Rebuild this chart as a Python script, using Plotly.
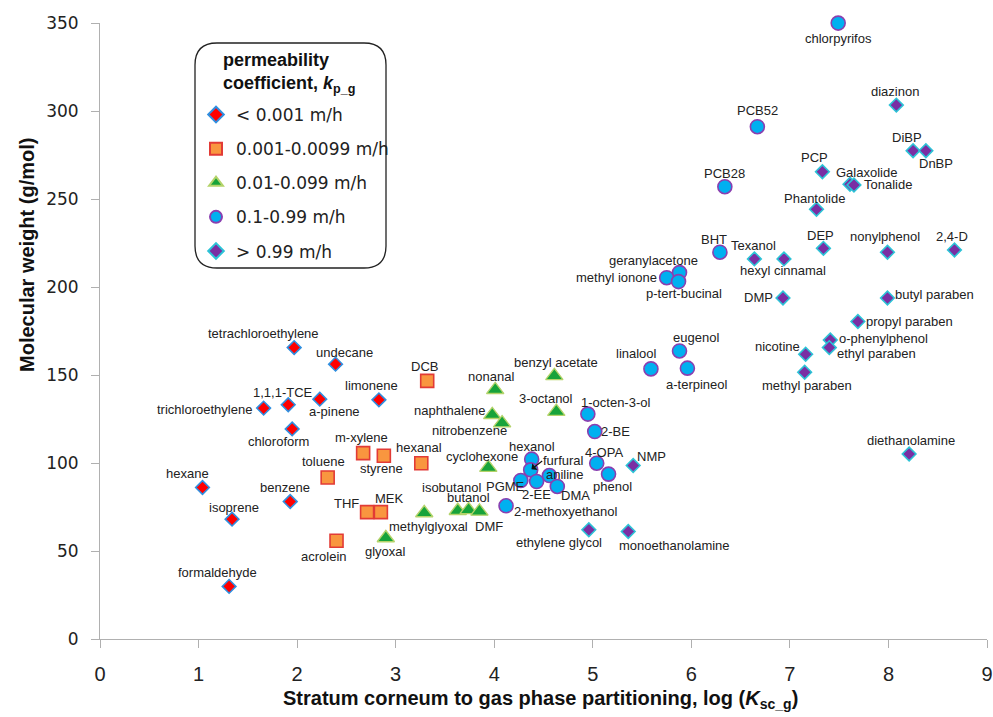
import plotly.graph_objects as go

# ---------------- data ----------------
# group 1: kp_g < 0.001 m/h
g1_names = ["tetrachloroethylene", "undecane", "limonene", "1,1,1-TCE", "a-pinene",
            "trichloroethylene", "chloroform", "hexane", "isoprene", "benzene", "formaldehyde"]
g1_x = [1.97, 2.39, 2.83, 1.91, 2.23, 1.66, 1.95, 1.04, 1.34, 1.93, 1.31]
g1_y = [165.6, 156.2, 135.9, 133.1, 136.3, 131.2, 119.4, 86.1, 68.1, 78.1, 29.9]

# group 2: 0.001-0.0099 m/h
g2_names = ["m-xylene", "styrene", "toluene", "THF", "MEK", "acrolein", "hexanal", "DCB"]
g2_x = [2.67, 2.88, 2.31, 2.71, 2.85, 2.40, 3.26, 3.32]
g2_y = [105.6, 104.1, 91.8, 72.1, 72.1, 55.8, 99.9, 146.7]

# group 3: 0.01-0.099 m/h
g3_names = ["nonanal", "benzyl acetate", "3-octanol", "naphthalene", "nitrobenzene",
            "cyclohexone", "isobutanol", "butanol", "DMF", "methylglyoxal", "glyoxal"]
g3_x = [4.01, 4.61, 4.63, 3.98, 4.08, 3.94, 3.63, 3.74, 3.85, 3.29, 2.90]
g3_y = [141.6, 149.5, 129.2, 127.4, 122.7, 97.4, 72.9, 73.4, 72.5, 71.6, 57.4]

# group 4: 0.1-0.99 m/h
g4_names = ["chlorpyrifos", "PCB52", "PCB28", "BHT", "geranylacetone", "methyl ionone",
            "p-tert-bucinal", "eugenol", "linalool", "a-terpineol", "1-octen-3-ol", "2-BE",
            "hexanol", "4-OPA", "phenol", "furfural", "aniline", "PGME", "2-EE", "DMA",
            "2-methoxyethanol"]
g4_x = [7.49, 6.67, 6.34, 6.29, 5.88, 5.75, 5.87, 5.88, 5.59, 5.96, 4.95, 5.02,
        4.38, 5.04, 5.16, 4.37, 4.56, 4.27, 4.43, 4.64, 4.12]
g4_y = [350.0, 291.1, 257.0, 219.8, 208.2, 205.3, 203.1, 163.7, 153.5, 153.9, 127.8, 117.9,
        102.2, 99.9, 93.7, 96.1, 92.9, 90.1, 89.5, 86.7, 75.7]

# group 5: > 0.99 m/h
g5_names = ["diazinon", "DiBP", "DnBP", "PCP", "Galaxolide", "Tonalide", "Phantolide", "DEP",
            "nonylphenol", "2,4-D", "Texanol", "hexyl cinnamal", "DMP", "butyl paraben",
            "propyl paraben", "o-phenylphenol", "ethyl paraben", "nicotine", "methyl paraben",
            "diethanolamine", "NMP", "monoethanolamine", "ethylene glycol"]
g5_x = [8.08, 8.25, 8.38, 7.33, 7.61, 7.65, 7.27, 7.34, 7.99, 8.67, 6.64, 6.94, 6.93, 7.99,
        7.69, 7.41, 7.40, 7.16, 7.15, 8.21, 5.41, 5.36, 4.96]
g5_y = [303.4, 277.5, 277.5, 265.5, 258.4, 258.0, 244.2, 222.0, 219.8, 221.1, 216.0, 216.0,
        193.8, 193.8, 180.4, 169.9, 165.6, 161.8, 151.6, 105.1, 98.6, 61.1, 62.1]

legend_labels = ["< 0.001 m/h", "0.001-0.0099 m/h", "0.01-0.099 m/h", "0.1-0.99 m/h", "> 0.99 m/h"]
legend_title = "<b>permeability<br>coefficient, <i>k</i><sub>p_g</sub></b>"

x_ticks = [0, 1, 2, 3, 4, 5, 6, 7, 8, 9]
y_ticks = [0, 50, 100, 150, 200, 250, 300, 350]

# ---------------- styling ----------------
styles = [
    dict(symbol="diamond", size=10.5, color="#ff0000", line="#2f8fe0", lw=1.6),
    dict(symbol="square", size=13, color="#f9963f", line="#e23b36", lw=1.6),
    dict(symbol="triangle-up", size=15, color="#17a33a", line="#b4d36a", lw=1.4),
    dict(symbol="circle", size=14, color="#00b0f0", line="#8a3fb0", lw=1.6),
    dict(symbol="diamond", size=10.5, color="#7a2ea3", line="#2cc3d6", lw=1.6),
]

# label offsets in screen pixels (dx right, dy down) relative to the marker
label_off = {
    "tetrachloroethylene": (-31, -14), "undecane": (9, -12), "limonene": (-7, -14),
    "1,1,1-TCE": (-5, -12), "a-pinene": (15, 12), "trichloroethylene": (-59, 1),
    "chloroform": (-14, 13), "hexane": (-15, -14), "isoprene": (2, -12),
    "benzene": (-5, -14), "formaldehyde": (-12, -14),
    "m-xylene": (-2, -16), "styrene": (-2, 13), "toluene": (-4, -16), "THF": (-21, -9),
    "MEK": (9, -14), "acrolein": (-13, 16), "hexanal": (-2, -16), "DCB": (-3, -14),
    "nonanal": (-4, -13), "benzyl acetate": (2, -13), "3-octanol": (-10, -13),
    "naphthalene": (-42, -4), "nitrobenzene": (-33, 7), "cyclohexone": (-6, -11),
    "isobutanol": (-6, -23), "butanol": (0, -12), "DMF": (10, 15),
    "methylglyoxal": (4, 13), "glyoxal": (0, 14),
    "chlorpyrifos": (0, 15), "PCB52": (0, -16), "PCB28": (0, -13), "BHT": (-6, -13),
    "geranylacetone": (-26, -12), "methyl ionone": (-50, 0), "p-tert-bucinal": (5, 12),
    "eugenol": (16, -13), "linalool": (-14, -15), "a-terpineol": (10, 16),
    "1-octen-3-ol": (28, -12), "2-BE": (21, 0), "hexanol": (0, -13), "4-OPA": (7, -11),
    "phenol": (4, 12), "furfural": (33, -9), "aniline": (16, -1), "PGME": (-15, 6),
    "2-EE": (0, 13), "DMA": (18, 9), "2-methoxyethanol": (59, 6),
    "diazinon": (-1, -14), "DiBP": (-6, -13), "DnBP": (10, 13), "PCP": (-8, -14),
    "Galaxolide": (16, -12), "Tonalide": (34, 0), "Phantolide": (-2, -11), "DEP": (-3, -13),
    "nonylphenol": (-2, -16), "2,4-D": (-2, -13), "Texanol": (-1, -13),
    "hexyl cinnamal": (-1, 12), "DMP": (-24, 0), "butyl paraben": (47, -3),
    "propyl paraben": (52, 0), "o-phenylphenol": (53, -2), "ethyl paraben": (47, 6),
    "nicotine": (-28, -8), "methyl paraben": (2, 13), "diethanolamine": (2, -14),
    "NMP": (18, -9), "monoethanolamine": (46, 14), "ethylene glycol": (-30, 13),
}

groups = [(g1_names, g1_x, g1_y), (g2_names, g2_x, g2_y), (g3_names, g3_x, g3_y),
          (g4_names, g4_x, g4_y), (g5_names, g5_x, g5_y)]

LABEL_FONT = dict(family="Liberation Sans, Arial, sans-serif", size=13, color="#222222")

# plot-area geometry in pixels
W, H = 993, 717
PL, PR, PT, PB = 100, 987, 23, 639


def px(v):
    return (v - PL) / (PR - PL)


def py(v):
    return (PB - v) / (PB - PT)


fig = go.Figure()
annotations = []
for i, ((names, xs, ys), st, lab) in enumerate(zip(groups, styles, legend_labels)):
    fig.add_trace(go.Scatter(
        x=xs, y=ys, mode="markers", name=lab, text=names,
        legendgroup=f"g{i}", cliponaxis=False,
        marker=dict(symbol=st["symbol"], size=st["size"], color=st["color"],
                    line=dict(color=st["line"], width=st["lw"])),
        hovertemplate="%{text}<br>%{x}, %{y}<extra></extra>",
    ))
    for n, xv, yv in zip(names, xs, ys):
        dx, dy = label_off.get(n, (0, -13))
        annotations.append(dict(x=xv, y=yv, xref="x", yref="y", text=n, showarrow=False,
                                xanchor="center", yanchor="middle", xshift=dx, yshift=-dy,
                                font=LABEL_FONT))

# arrow pointing to furfural
fi = g4_names.index("furfural")
annotations.append(dict(x=g4_x[fi], y=g4_y[fi], xref="x", yref="y", text="", showarrow=True,
                        ax=13, ay=-10, arrowhead=1, arrowsize=1.2, arrowwidth=1.2,
                        arrowcolor="#111111", standoff=1))

# axis titles
TITLE_FONT = dict(family="Liberation Sans, Arial, sans-serif", size=20, color="#111111")
annotations.append(dict(x=px(27), y=py(255), xref="paper", yref="paper", textangle=-90,
                        text="<b>Molecular weight (g/mol)</b>", showarrow=False,
                        xanchor="center", yanchor="middle", font=TITLE_FONT))
annotations.append(dict(x=px(540), y=py(699), xref="paper", yref="paper",
                        text="<b>Stratum corneum to gas phase partitioning, log (<i>K</i><sub>sc_g</sub>)</b>",
                        showarrow=False, xanchor="center", yanchor="middle", font=TITLE_FONT))

# legend title
annotations.append(dict(x=px(221), y=py(48), xref="paper", yref="paper", text=legend_title,
                        showarrow=False, xanchor="left", yanchor="top", align="left",
                        font=dict(family="Liberation Sans, Arial, sans-serif", size=18,
                                  color="#111111")))

# rounded legend box
bl, br, bt, bb, rad = 195, 386, 43, 268, 22
path = (f"M {px(bl+rad)},{py(bt)} L {px(br-rad)},{py(bt)} Q {px(br)},{py(bt)} {px(br)},{py(bt+rad)} "
        f"L {px(br)},{py(bb-rad)} Q {px(br)},{py(bb)} {px(br-rad)},{py(bb)} "
        f"L {px(bl+rad)},{py(bb)} Q {px(bl)},{py(bb)} {px(bl)},{py(bb-rad)} "
        f"L {px(bl)},{py(bt+rad)} Q {px(bl)},{py(bt)} {px(bl+rad)},{py(bt)} Z")

fig.update_layout(
    width=W, height=H,
    margin=dict(l=PL, r=W - PR, t=PT, b=H - PB, autoexpand=False),
    paper_bgcolor="white", plot_bgcolor="white",
    showlegend=True,
    annotations=annotations,
    shapes=[dict(type="path", path=path, xref="paper", yref="paper",
                 line=dict(color="#222222", width=1.3), fillcolor="rgba(0,0,0,0)", layer="above")],
    legend=dict(
        x=px(196), y=py(97), xanchor="left", yanchor="top",
        bgcolor="rgba(0,0,0,0)", borderwidth=0,
        traceorder="grouped", tracegroupgap=9,
        font=dict(family="DejaVu Sans, sans-serif", size=17, color="#222222"),
        itemsizing="constant", itemwidth=30,
    ),
    xaxis=dict(range=[0, 9], tickvals=x_ticks, ticktext=[str(t) for t in x_ticks],
               automargin=False,
               showgrid=False, zeroline=False, showline=True, linecolor="#b0b0b0", linewidth=1,
               ticks="outside", ticklen=8, tickcolor="#b0b0b0", ticklabelstandoff=9,
               tickfont=dict(family="Liberation Sans, Arial, sans-serif", size=20, color="#222222")),
    yaxis=dict(range=[0, 350.05], tickvals=y_ticks, ticktext=[str(t) for t in y_ticks],
               automargin=False,
               showgrid=False, zeroline=False, showline=True, linecolor="#b0b0b0", linewidth=1,
               ticks="outside", ticklen=8, tickcolor="#b0b0b0", ticklabelstandoff=9,
               tickfont=dict(family="DejaVu Sans, sans-serif", size=17, color="#222222")),
)

# the page's default body margin would offset the figure by 8px; remove it
fig.write_html("out.html", config={"displayModeBar": False},
               post_script="document.body.style.margin='0';")
